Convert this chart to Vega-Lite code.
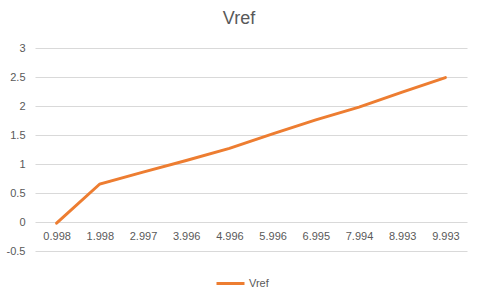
{
  "$schema": "https://vega.github.io/schema/vega-lite/v6.json",
  "width": 432,
  "height": 203,
  "autosize": {"type": "none"},
  "padding": {"left": 35, "top": 48, "right": 11, "bottom": 36},
  "background": "white",
  "config": {
    "view": {"stroke": null},
    "font": "Liberation Sans"
  },
  "title": {
    "text": "Vref",
    "fontSize": 18,
    "fontWeight": "normal",
    "color": "#595959",
    "font": "Liberation Sans",
    "anchor": "middle",
    "dx": -12,
    "offset": 14
  },
  "data": {
    "values": [
      {"x": "0.998", "series": "Vref", "v": -0.02},
      {"x": "1.998", "series": "Vref", "v": 0.655},
      {"x": "2.997", "series": "Vref", "v": 0.86},
      {"x": "3.996", "series": "Vref", "v": 1.06},
      {"x": "4.996", "series": "Vref", "v": 1.27},
      {"x": "5.996", "series": "Vref", "v": 1.52},
      {"x": "6.995", "series": "Vref", "v": 1.76},
      {"x": "7.994", "series": "Vref", "v": 1.98},
      {"x": "8.993", "series": "Vref", "v": 2.24},
      {"x": "9.993", "series": "Vref", "v": 2.49}
    ]
  },
  "mark": {"type": "line", "strokeWidth": 3, "strokeCap": "round"},
  "encoding": {
    "x": {
      "field": "x",
      "type": "ordinal",
      "sort": null,
      "axis": {
        "title": null,
        "labelAngle": 0,
        "domain": false,
        "ticks": false,
        "grid": false,
        "offset": -29,
        "labelPadding": 8,
        "labelFontSize": 11,
        "labelColor": "#595959"
      }
    },
    "y": {
      "field": "v",
      "type": "quantitative",
      "scale": {"domain": [-0.5, 3], "nice": false, "zero": false},
      "axis": {
        "title": null,
        "values": [-0.5, 0, 0.5, 1, 1.5, 2, 2.5, 3],
        "labelExpr": "'' + datum.value",
        "domain": false,
        "ticks": false,
        "gridColor": "#d9d9d9",
        "gridWidth": 1,
        "labelPadding": 10,
        "labelFontSize": 11,
        "labelColor": "#595959"
      }
    },
    "color": {
      "field": "series",
      "type": "nominal",
      "scale": {"range": ["#ED7D31"]},
      "legend": {
        "title": null,
        "orient": "none",
        "legendX": 180,
        "legendY": 220,
        "symbolType": "stroke",
        "symbolSize": 784,
        "symbolStrokeWidth": 3,
        "labelFontSize": 11,
        "labelColor": "#595959",
        "labelOffset": 3
      }
    }
  }
}
